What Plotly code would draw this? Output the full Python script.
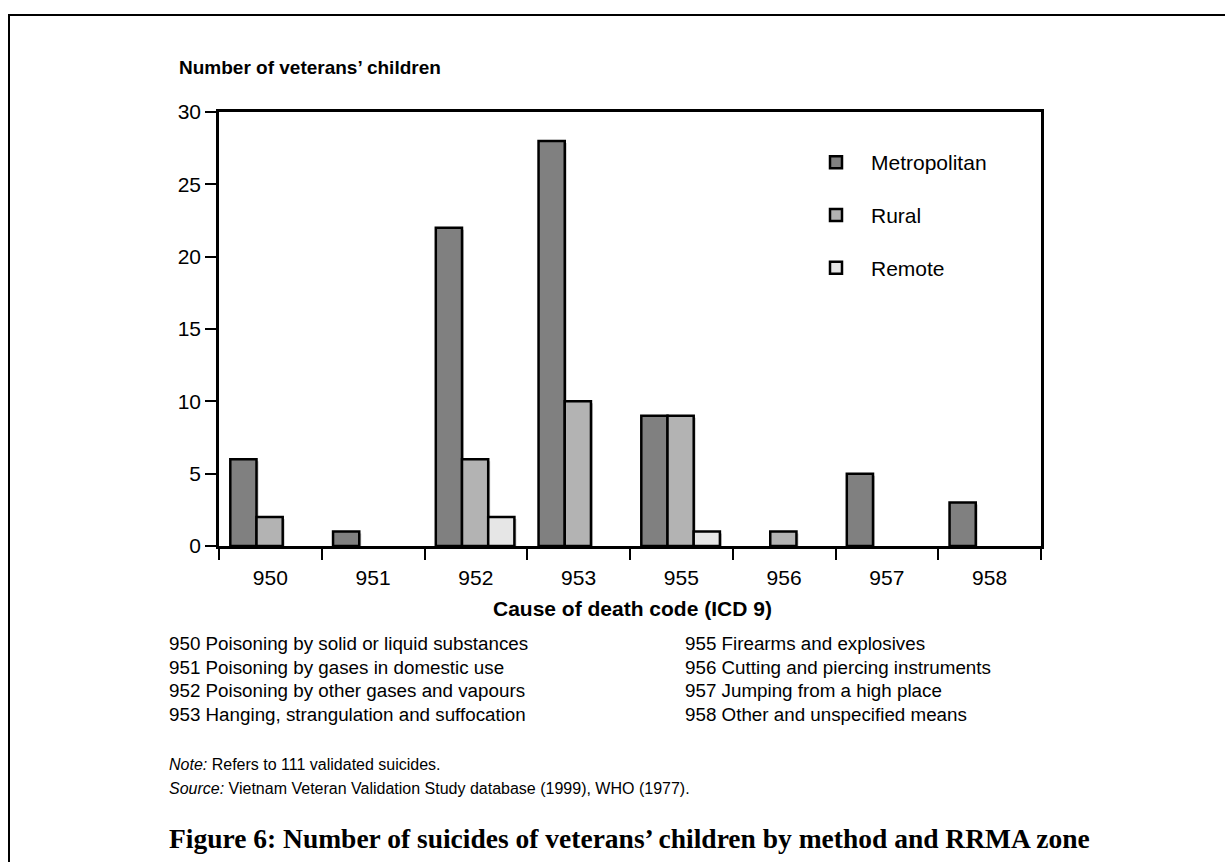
import plotly.graph_objects as go

# ICD 9 cause-of-death codes (x categories)
codes = ["950", "951", "952", "953", "955", "956", "957", "958"]

# Number of suicides of veterans' children by RRMA zone
metropolitan = [6, 1, 22, 28, 9, 0, 5, 3]
rural = [2, 0, 6, 10, 9, 1, 0, 0]
remote = [0, 0, 2, 0, 1, 0, 0, 0]

series_names = ["Metropolitan", "Rural", "Remote"]
series_values = [metropolitan, rural, remote]
series_colors = ["#808080", "#b3b3b3", "#e6e6e6"]

# Code descriptions listed under the chart
code_notes_left = [
    "950 Poisoning by solid or liquid substances",
    "951 Poisoning by gases in domestic use",
    "952 Poisoning by other gases and vapours",
    "953 Hanging, strangulation and suffocation",
]
code_notes_right = [
    "955 Firearms and explosives",
    "956 Cutting and piercing instruments",
    "957 Jumping from a high place",
    "958 Other and unspecified means",
]

y_ticks = [0, 5, 10, 15, 20, 25, 30]

# Canvas and plot-area geometry (pixels)
W, H = 1225, 862
L, R, T, B = 219, 184, 112, 316
PW, PH = W - L - R, H - T - B

SANS = "Arial, Liberation Sans, sans-serif"
SERIF = "Times New Roman, Liberation Serif, serif"

bar_w = 0.255
offsets = [-0.39, -0.135, 0.12]
shadow_dx = 2.0 / PW * len(codes)      # ~2 px to the right, in category units
shadow_dy = 2.0 / PH * 30              # ~2 px downward, in value units


def px_x(px):
    return (px - L) / PW


def px_y(py):
    return (H - B - py) / PH


def drawn(vals):
    # empty cells are left blank rather than drawn as a flat outline
    return [v if v else None for v in vals]


fig = go.Figure()

# drop shadows behind each bar
for vals, off in zip(series_values, offsets):
    fig.add_trace(go.Bar(
        x=codes, y=drawn(vals), base=-shadow_dy, width=bar_w, offset=off + shadow_dx,
        marker=dict(color="#c4c4c4", line=dict(width=0)),
        showlegend=False, hoverinfo="skip",
    ))

# main bars
for name, vals, col, off in zip(series_names, series_values, series_colors, offsets):
    fig.add_trace(go.Bar(
        x=codes, y=drawn(vals), name=name, width=bar_w, offset=off,
        marker=dict(color=col, line=dict(color="black", width=2.5)),
        legendgroup=name,
    ))

annotations = []

# y-axis heading
annotations.append(dict(
    text="<b>Number of veterans’ children</b>", x=px_x(177), y=px_y(67),
    xref="paper", yref="paper", xanchor="left", yanchor="middle",
    showarrow=False, font=dict(family=SANS, size=19, color="black"),
))

# x-axis heading
annotations.append(dict(
    text="<b>Cause of death code (ICD 9)</b>", x=px_x(632), y=px_y(608),
    xref="paper", yref="paper", xanchor="center", yanchor="middle",
    showarrow=False, font=dict(family=SANS, size=21, color="black"),
))

# code description columns
line_y = [643, 667, 690.5, 714]
for col_x, notes in ((167, code_notes_left), (683, code_notes_right)):
    for yy, txt in zip(line_y, notes):
        annotations.append(dict(
            text=txt, x=px_x(col_x), y=px_y(yy), xref="paper", yref="paper",
            xanchor="left", yanchor="middle", showarrow=False,
            font=dict(family=SANS, size=18.8, color="black"),
        ))

annotations.append(dict(
    text="<i>Note:</i> Refers to 111 validated suicides.", x=px_x(167), y=px_y(764),
    xref="paper", yref="paper", xanchor="left", yanchor="middle", showarrow=False,
    font=dict(family=SANS, size=16, color="black"),
))
annotations.append(dict(
    text="<i>Source:</i> Vietnam Veteran Validation Study database (1999), WHO (1977).",
    x=px_x(167), y=px_y(788), xref="paper", yref="paper", xanchor="left",
    yanchor="middle", showarrow=False, font=dict(family=SANS, size=16, color="black"),
))

# figure caption
annotations.append(dict(
    text="<b>Figure 6: Number of suicides of veterans’ children by method and RRMA zone</b>",
    x=px_x(167), y=px_y(838), xref="paper", yref="paper", xanchor="left",
    yanchor="middle", showarrow=False, font=dict(family=SERIF, size=27.5, color="black"),
))

# outer frame: top and left edges of the panel
frame = dict(color="black", width=2)
shapes = [
    dict(type="line", xref="paper", yref="paper",
         x0=px_x(8), x1=px_x(W + 20), y0=px_y(15), y1=px_y(15), line=frame, layer="above"),
    dict(type="line", xref="paper", yref="paper",
         x0=px_x(9), x1=px_x(9), y0=px_y(14), y1=px_y(H + 20), line=frame, layer="above"),
]

fig.update_layout(
    width=W, height=H,
    margin=dict(l=L, r=R, t=T, b=B, pad=0),
    paper_bgcolor="white", plot_bgcolor="white",
    barmode="overlay",
    font=dict(family=SANS, size=21, color="black"),
    xaxis=dict(
        type="category", categoryorder="array", categoryarray=codes,
        range=[-0.5, len(codes) - 0.5],
        showline=True, linecolor="black", linewidth=2.5, mirror=True,
        ticks="outside", tickson="boundaries", ticklen=11, tickwidth=1.5,
        tickcolor="black", showgrid=False, zeroline=False, ticklabelstandoff=11,
        tickfont=dict(family=SANS, size=21, color="black"),
    ),
    yaxis=dict(
        range=[0, 30], tickvals=y_ticks,
        showline=True, linecolor="black", linewidth=2.5, mirror=True,
        ticks="outside", ticklen=11, tickwidth=1.5, tickcolor="black",
        showgrid=False, zeroline=False,
        tickfont=dict(family=SANS, size=21, color="black"),
    ),
    legend=dict(
        x=px_x(801), y=px_y(142), xanchor="left", yanchor="top",
        traceorder="grouped", tracegroupgap=22.5, itemwidth=60,
        bgcolor="rgba(0,0,0,0)", borderwidth=0,
        font=dict(family=SANS, size=21, color="black"),
    ),
    annotations=annotations,
    shapes=shapes,
)

fig.write_html("out.html")
